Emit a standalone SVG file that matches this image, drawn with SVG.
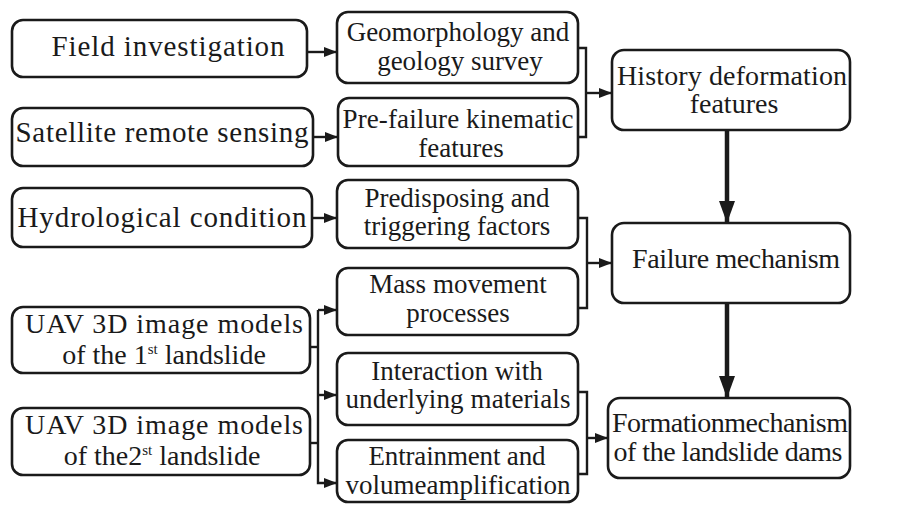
<svg xmlns="http://www.w3.org/2000/svg" width="921" height="505" viewBox="0 0 921 505" font-family="Liberation Serif, Times New Roman, serif">
<style>
.box{fill:#fff;stroke:#1a1a1a;stroke-width:2.6}
text{fill:#1a1a1a;text-anchor:middle}
.l{font-size:29px}
.u{font-size:28px}
.m{font-size:27px}
.r{font-size:28px}
.c{fill:none;stroke:#1a1a1a;stroke-width:2.4}
.k{fill:none;stroke:#1a1a1a;stroke-width:4.5}
</style>
<defs>
<marker id="a" markerUnits="userSpaceOnUse" viewBox="0 0 13 10" refX="13" refY="5" markerWidth="13" markerHeight="10" orient="auto"><path d="M0,0 L13,5 L0,10 z" fill="#1a1a1a"/></marker>
<marker id="b" markerUnits="userSpaceOnUse" viewBox="0 0 22 16" refX="22" refY="8" markerWidth="22" markerHeight="16" orient="auto"><path d="M0,0 L22,8 L0,16 z" fill="#1a1a1a"/></marker>
</defs>
<rect width="921" height="505" fill="#fff"/>
<g id="connectors">
<path class="c" d="M307,52 H337" marker-end="url(#a)"/>
<path class="c" d="M313,137 H338" marker-end="url(#a)"/>
<path class="c" d="M312,218 H337" marker-end="url(#a)"/>
<path class="c" d="M310,347 H318"/>
<path class="c" d="M310,443 H318"/>
<path class="c" d="M318,310 V483 H337" marker-end="url(#a)"/>
<path class="c" d="M318,310 H337" marker-end="url(#a)"/>
<path class="c" d="M318,395 H337" marker-end="url(#a)"/>
<path class="c" d="M578,48 H586 V137 H578"/>
<path class="c" d="M586,93 H612" marker-end="url(#a)"/>
<path class="c" d="M578,218 H587 V308 H578"/>
<path class="c" d="M587,263 H612" marker-end="url(#a)"/>
<path class="c" d="M578,392 H587 V474 H578"/>
<path class="c" d="M587,438 H608" marker-end="url(#a)"/>
<path class="k" d="M727,130 V223" marker-end="url(#b)"/>
<path class="k" d="M727,303 V398" marker-end="url(#b)"/>
</g>
<g id="n1"><rect class="box" x="12" y="20" width="295" height="57" rx="11"/><text class="l" x="168" y="56" textLength="233">Field investigation</text></g>
<g id="n2"><rect class="box" x="12" y="108" width="301" height="58" rx="11"/><text class="l" x="162" y="142" textLength="293">Satellite remote sensing</text></g>
<g id="n3"><rect class="box" x="12" y="188" width="300" height="59" rx="11"/><text class="l" x="162" y="227" textLength="289">Hydrological condition</text></g>
<g id="n4"><rect class="box" x="12" y="307" width="298" height="66" rx="11"/><text class="u" x="164" y="333" textLength="278">UAV 3D image models</text><text class="u" x="164" y="364">of the 1<tspan font-size="15" dy="-10">st</tspan><tspan dy="10"> landslide</tspan></text></g>
<g id="n5"><rect class="box" x="12" y="408" width="298" height="67" rx="11"/><text class="u" x="164" y="434" textLength="278">UAV 3D image models</text><text class="u" x="162" y="465">of the2<tspan font-size="15" dy="-10">st</tspan><tspan dy="10"> landslide</tspan></text></g>
<g id="n6"><rect class="box" x="337" y="12" width="241" height="71" rx="11"/><text class="m" x="458" y="41">Geomorphology and</text><text class="m" x="460" y="70">geology survey</text></g>
<g id="n7"><rect class="box" x="338" y="98" width="240" height="68" rx="11"/><text class="m" x="458" y="128" textLength="231">Pre-failure kinematic</text><text class="m" x="461" y="157">features</text></g>
<g id="n8"><rect class="box" x="337" y="180" width="241" height="68" rx="11"/><text class="m" x="457" y="207">Predisposing and</text><text class="m" x="457" y="235">triggering factors</text></g>
<g id="n9"><rect class="box" x="337" y="268" width="241" height="67" rx="11"/><text class="m" x="458" y="293">Mass movement</text><text class="m" x="458" y="322">processes</text></g>
<g id="n10"><rect class="box" x="337" y="353" width="241" height="72" rx="11"/><text class="m" x="457" y="380">Interaction with</text><text class="m" x="458" y="408" textLength="225">underlying materials</text></g>
<g id="n11"><rect class="box" x="337" y="440" width="241" height="62" rx="11"/><text class="m" x="457" y="465" textLength="177">Entrainment and</text><text class="m" x="458" y="494" textLength="225">volumeamplification</text></g>
<g id="n12"><rect class="box" x="612" y="50" width="238" height="80" rx="12"/><text class="r" x="732" y="85" textLength="230">History deformation</text><text class="r" x="734" y="113">features</text></g>
<g id="n13"><rect class="box" x="612" y="223" width="238" height="80" rx="12"/><text class="r" x="736" y="268" textLength="208">Failure mechanism</text></g>
<g id="n14"><rect class="box" x="608" y="398" width="242" height="80" rx="12"/><text class="r" x="730" y="432" textLength="236">Formationmechanism</text><text class="r" x="728" y="461" textLength="229">of the landslide dams</text></g>
</svg>
